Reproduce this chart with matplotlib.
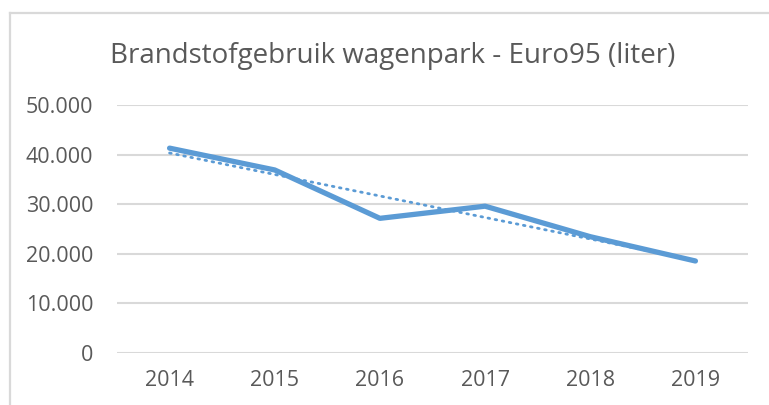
import matplotlib
matplotlib.use("Agg")
import matplotlib.pyplot as plt
import numpy as np
from matplotlib.lines import Line2D
from matplotlib.ticker import FuncFormatter

years = ["2014", "2015", "2016", "2017", "2018", "2019"]
euro95 = [41300, 36900, 27150, 29600, 23450, 18550]

blue = "#5B9BD5"
grey_txt = "#595959"
grid_col = "#D9D9D9"

plt.rcParams["font.family"] = ["Open Sans", "DejaVu Sans"]

fig = plt.figure(figsize=(7.69, 4.05), dpi=100)
W, H = 769, 405

# chart frame (Excel chart border), extends beyond the crop
fig.add_artist(Line2D([10 / W, 1.0], [1 - 13 / H, 1 - 13 / H], transform=fig.transFigure,
                      color=grid_col, lw=1.6))
fig.add_artist(Line2D([10 / W, 10 / W], [0, 1 - 13 / H], transform=fig.transFigure,
                      color=grid_col, lw=1.6))

# caption above the chart, cut off by the crop (only the descenders show)
fig.text(27 / W, 1.0 + 4.0 / H, "Figuur 10: Brandstofgebruik", fontsize=14.6,
         fontweight="bold", family="DejaVu Sans", va="baseline", ha="left", color="black")

ax = fig.add_axes([117 / W, 1 - 353 / H, (748 - 117) / W, (353 - 105) / H])

x = np.arange(len(years))
ax.plot(x, euro95, color=blue, lw=3.8, solid_capstyle="round", solid_joinstyle="round", zorder=3)

# linear trendline
coef = np.polyfit(x, euro95, 1)
ax.plot(x, np.polyval(coef, x), color=blue, lw=2.0, linestyle=(0, (0.6, 2.0)),
        dash_capstyle="round", zorder=2)

ax.set_xlim(-0.5, len(years) - 0.5)
ax.set_ylim(0, 50000)
ax.set_yticks(np.arange(0, 50001, 10000))
ax.yaxis.set_major_formatter(FuncFormatter(lambda v, p: f"{int(v):,}".replace(",", ".")))
ax.set_xticks(x)
ax.set_xticklabels(years)

ax.grid(axis="y", color=grid_col, lw=1.5)
ax.set_axisbelow(True)
for s in ax.spines.values():
    s.set_visible(False)
ax.tick_params(axis="both", length=0, colors=grey_txt, labelsize=15.5)
ax.tick_params(axis="y", pad=17)
ax.tick_params(axis="x", pad=12)

fig.text(393 / W, 1 - 56 / H, "Brandstofgebruik wagenpark - Euro95 (liter)", fontsize=20,
         color=grey_txt, ha="center", va="center")

fig.savefig("out.png", dpi=100)
